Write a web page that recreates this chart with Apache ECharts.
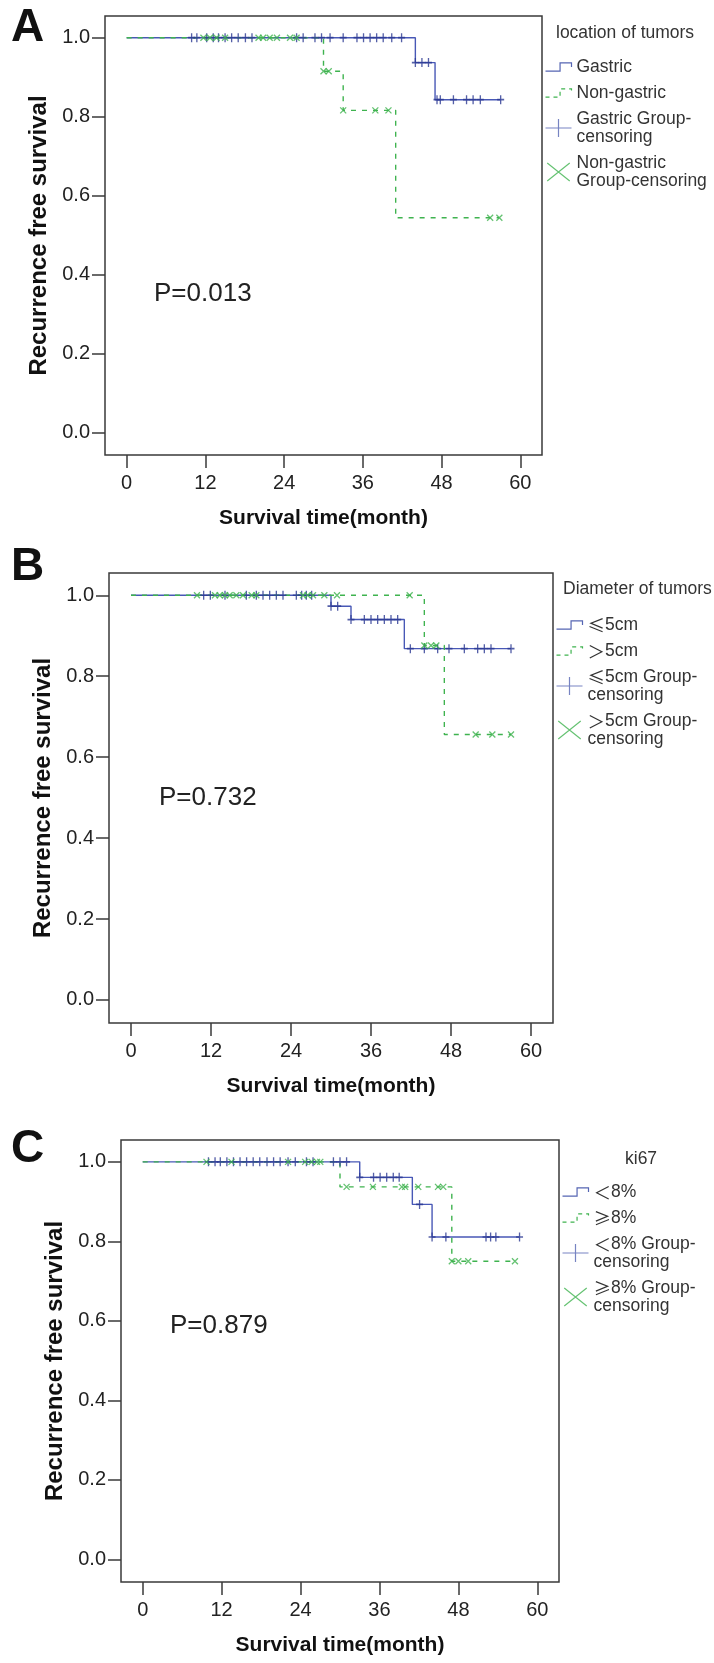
<!DOCTYPE html>
<html>
<head>
<meta charset="utf-8">
<script src="https://cdn.jsdelivr.net/npm/echarts@6/dist/echarts.min.js"></script>
<style>
  html, body { margin: 0; padding: 0; background: #fff; }
  #chart { width: 714px; height: 1663px; }
</style>
</head>
<body>
<div id="chart"></div>
<script>
const monthTicks = [0, 12, 24, 36, 48, 60];
const survTicks = [0, 0.2, 0.4, 0.6, 0.8, 1.0];

// A - location of tumors
const aGastricTime = [0, 44, 47, 57];
const aGastricSurv = [1, 0.937, 0.843, 0.843];
const aGastricCens = [9.9, 10.7, 12.2, 13.2, 14.0, 15.0, 16.0, 17.0, 18.1, 19.1, 25.9, 26.9, 28.7, 29.7, 31.0,
  33.0, 35.1, 36.1, 37.1, 38.1, 39.1, 40.4, 41.9, 44.0, 45.0, 46.0, 47.3, 47.8, 49.8, 51.8, 52.8, 53.9, 57.0];
const aNonGastricTime = [0, 30, 33, 41, 56.8];
const aNonGastricSurv = [1, 0.915, 0.816, 0.544, 0.544];
const aNonGastricCens = [11.7, 12.7, 13.7, 15.0, 20.1, 20.8, 21.8, 22.9, 24.9, 25.9, 30.0, 30.8, 33.0, 37.9, 39.9, 55.4, 56.8];

// B - diameter of tumors
const bSmallTime = [0, 30, 33, 41, 57];
const bSmallSurv = [1, 0.973, 0.940, 0.868, 0.868];
const bSmallCens = [10.9, 11.9, 14.1, 17.3, 18.8, 19.8, 20.8, 21.8, 22.8, 24.8, 25.6, 26.3, 27.1, 30.0, 31.0,
  33.0, 35.0, 36.0, 37.0, 38.0, 39.0, 40.0, 41.9, 44.0, 46.0, 47.7, 50.0, 52.0, 53.0, 54.0, 57.0];
const bLargeTime = [0, 44, 47, 57];
const bLargeSurv = [1, 0.876, 0.656, 0.656];
const bLargeCens = [9.9, 12.6, 13.3, 14.1, 14.8, 15.8, 16.8, 18.1, 18.8, 25.8, 26.5, 27.3, 29.0, 30.9, 41.8,
  44.0, 45.0, 45.8, 51.7, 54.2, 57.0];

// C - ki67
const cLowTime = [0, 33, 41, 44, 57.3];
const cLowSurv = [1, 0.961, 0.893, 0.811, 0.811];
const cLowCens = [10.0, 11.0, 11.8, 12.8, 13.8, 14.8, 15.8, 16.8, 17.8, 18.9, 19.9, 20.9, 22.1, 23.2, 24.9, 25.9,
  29.0, 30.0, 31.0, 33.0, 35.1, 36.1, 37.1, 38.1, 39.0, 42.1, 44.0, 46.1, 52.2, 52.9, 53.7, 57.3];
const cHighTime = [0, 30, 47, 56.6];
const cHighSurv = [1, 0.937, 0.750, 0.750];
const cHighCens = [9.7, 13.5, 22.1, 24.7, 25.7, 26.5, 27.0, 31.0, 35.0, 39.4, 39.9, 41.9, 44.9, 45.7,
  47.0, 48.0, 49.5, 56.6];

const BLUE = '#4858b6';
const BLUE_MARK = '#2a3892';
const GREEN = '#3fb34f';
const INK = '#222';
const FRAME = '#3a3a3a';
const FONT = '"Liberation Sans", Arial, "Noto Sans CJK SC", sans-serif';

const PLUS = 'path://M5,0 L5,10 M0,5 L10,5';
const CROSS = 'path://M0,0 L10,10 M0,10 L10,0';
const STEP_ICON = 'path://M0,8 L14,8 L14,0 L25,0 L25,4';
const PLUS_ICON = 'path://M0,9 L26,9 M13,0 L13,18';
const CROSS_ICON = 'path://M0,0 L20,16 M0,16 L20,0';

function stepAt(times, surv, t) {
  let s = surv[0];
  for (let i = 0; i < times.length; i++) if (times[i] <= t) s = surv[i];
  return s;
}
const curve = (times, surv) => times.map((t, i) => [t, surv[i]]);
const marks = (times, surv, cens) => cens.map(t => [t, stepAt(times, surv, t)]);

const panels = [
  {
    letter: 'A', letterTop: 5, p: 'P=0.013', pLeft: 154, pTop: 281,
    grid: { left: 105, top: 16, width: 437, height: 439 },
    legendTitle: 'location of tumors', titleLeft: 556, titleTop: 24, legendLeft: 543, legendTop: 58,
    names: ['Gastric', 'Non-gastric', 'Gastric Group-censoring', 'Non-gastric Group-censoring'],
    labels: ['Gastric', 'Non-gastric', 'Gastric Group-\ncensoring', 'Non-gastric\nGroup-censoring'],
    blue: [aGastricTime, aGastricSurv, aGastricCens],
    green: [aNonGastricTime, aNonGastricSurv, aNonGastricCens]
  },
  {
    letter: 'B', letterTop: 544, p: 'P=0.732', pLeft: 159, pTop: 785,
    grid: { left: 109, top: 573, width: 444, height: 450 },
    legendTitle: 'Diameter of tumors', titleLeft: 563, titleTop: 580, legendLeft: 554, legendTop: 616,
    names: ['≤5cm', '>5cm', '≤5cm Group-censoring', '>5cm Group-censoring'],
    labels: ['{s|≤}5cm', '{s|＞}5cm', '{s|≤}5cm Group-\ncensoring', '{s|＞}5cm Group-\ncensoring'],
    blue: [bSmallTime, bSmallSurv, bSmallCens],
    green: [bLargeTime, bLargeSurv, bLargeCens]
  },
  {
    letter: 'C', letterTop: 1126, p: 'P=0.879', pLeft: 170, pTop: 1313,
    grid: { left: 121, top: 1140, width: 438, height: 442 },
    legendTitle: 'ki67', titleLeft: 625, titleTop: 1150, legendLeft: 560, legendTop: 1183,
    names: ['<8%', '≥8%', '<8% Group-censoring', '≥8% Group-censoring'],
    labels: ['{s|＜}8%', '{s|≥}8%', '{s|＜}8% Group-\ncensoring', '{s|≥}8% Group-\ncensoring'],
    blue: [cLowTime, cLowSurv, cLowCens],
    green: [cHighTime, cHighSurv, cHighCens]
  }
];

const option = {
  animation: false,
  backgroundColor: '#fff',
  title: [], grid: [], xAxis: [], yAxis: [], legend: [], series: []
};

panels.forEach((pn, i) => {
  option.grid.push(Object.assign({ show: true, borderColor: FRAME, borderWidth: 1.5, backgroundColor: '#fff' }, pn.grid));

  option.xAxis.push({
    type: 'value', gridIndex: i, min: -3.3, max: 63.3,
    name: 'Survival time(month)', nameLocation: 'middle', nameGap: 53,
    nameTextStyle: { fontFamily: FONT, fontSize: 21, fontWeight: 'bold', color: '#111' },
    axisLine: { show: false, onZero: false },
    axisTick: { show: true, length: 13, customValues: monthTicks, lineStyle: { color: FRAME, width: 1.5 } },
    axisLabel: { customValues: monthTicks, margin: 18, fontFamily: FONT, fontSize: 20, color: INK },
    splitLine: { show: false }
  });

  option.yAxis.push({
    type: 'value', gridIndex: i, min: -0.057, max: 1.055,
    name: 'Recurrence free survival', nameLocation: 'middle', nameGap: 52, nameRotate: 90,
    nameTextStyle: { fontFamily: FONT, fontSize: 24, fontWeight: 'bold', color: '#111' },
    axisLine: { show: false, onZero: false },
    axisTick: { show: true, length: 13, customValues: survTicks, lineStyle: { color: FRAME, width: 1.5 } },
    axisLabel: { customValues: survTicks, margin: 15, fontFamily: FONT, fontSize: 20, color: INK,
      formatter: v => v.toFixed(1) },
    splitLine: { show: false }
  });

  option.title.push(
    { text: pn.letter, left: 11, top: pn.letterTop, padding: 0,
      textStyle: { fontFamily: FONT, fontSize: 46, fontWeight: 'bold', color: '#111' } },
    { text: pn.p, left: pn.pLeft, top: pn.pTop, padding: 0,
      textStyle: { fontFamily: FONT, fontSize: 26, fontWeight: 'normal', color: INK } },
    { text: pn.legendTitle, left: pn.titleLeft, top: pn.titleTop, padding: 0,
      textStyle: { fontFamily: FONT, fontSize: 17.5, fontWeight: 'normal', color: '#333' } }
  );

  const [bt, bs, bc] = pn.blue;
  const [gt, gs, gc] = pn.green;

  option.series.push(
    { name: pn.names[0], type: 'line', xAxisIndex: i, yAxisIndex: i, step: 'end', showSymbol: false,
      data: curve(bt, bs), lineStyle: { color: BLUE, width: 1.4 }, itemStyle: { color: BLUE }, z: 2 },
    { name: pn.names[1], type: 'line', xAxisIndex: i, yAxisIndex: i, step: 'end', showSymbol: false,
      data: curve(gt, gs), lineStyle: { color: GREEN, width: 1.4, type: [5, 6] }, itemStyle: { color: GREEN }, z: 3 },
    { name: pn.names[2], type: 'scatter', xAxisIndex: i, yAxisIndex: i, symbol: PLUS, symbolSize: [7, 9],
      data: marks(bt, bs, bc), itemStyle: { color: 'none', borderColor: BLUE_MARK, borderWidth: 1.5 }, z: 4 },
    { name: pn.names[3], type: 'scatter', xAxisIndex: i, yAxisIndex: i, symbol: CROSS, symbolSize: 6,
      data: marks(gt, gs, gc), itemStyle: { color: 'none', borderColor: GREEN, borderWidth: 1.3 }, z: 5 }
  );

  const labelOf = {};
  pn.names.forEach((n, k) => { labelOf[n] = pn.labels[k]; });

  option.legend.push({
    orient: 'vertical', left: pn.legendLeft, top: pn.legendTop, padding: 0,
    itemGap: 8, itemWidth: 26, itemHeight: 18, selectedMode: false,
    formatter: n => labelOf[n],
    textStyle: { fontFamily: FONT, fontSize: 17.5, lineHeight: 18, color: '#333',
      rich: { s: { fontFamily: '"Noto Sans CJK SC", sans-serif', fontSize: 17.5, lineHeight: 18, color: '#333' } } },
    data: [
      { name: pn.names[0], icon: STEP_ICON, itemStyle: { color: 'none', borderColor: '#5565b3', borderWidth: 1.2 } },
      { name: pn.names[1], icon: STEP_ICON, itemStyle: { color: 'none', borderColor: GREEN, borderWidth: 1.2, borderType: [4, 4] } },
      { name: pn.names[2], icon: PLUS_ICON, itemStyle: { color: 'none', borderColor: '#5565b3', borderWidth: 1.2 } },
      { name: pn.names[3], icon: CROSS_ICON, itemStyle: { color: 'none', borderColor: GREEN, borderWidth: 1.2 } }
    ]
  });
});

const chart = echarts.init(document.getElementById('chart'), null, { renderer: 'canvas' });
chart.setOption(option);
</script>
</body>
</html>
